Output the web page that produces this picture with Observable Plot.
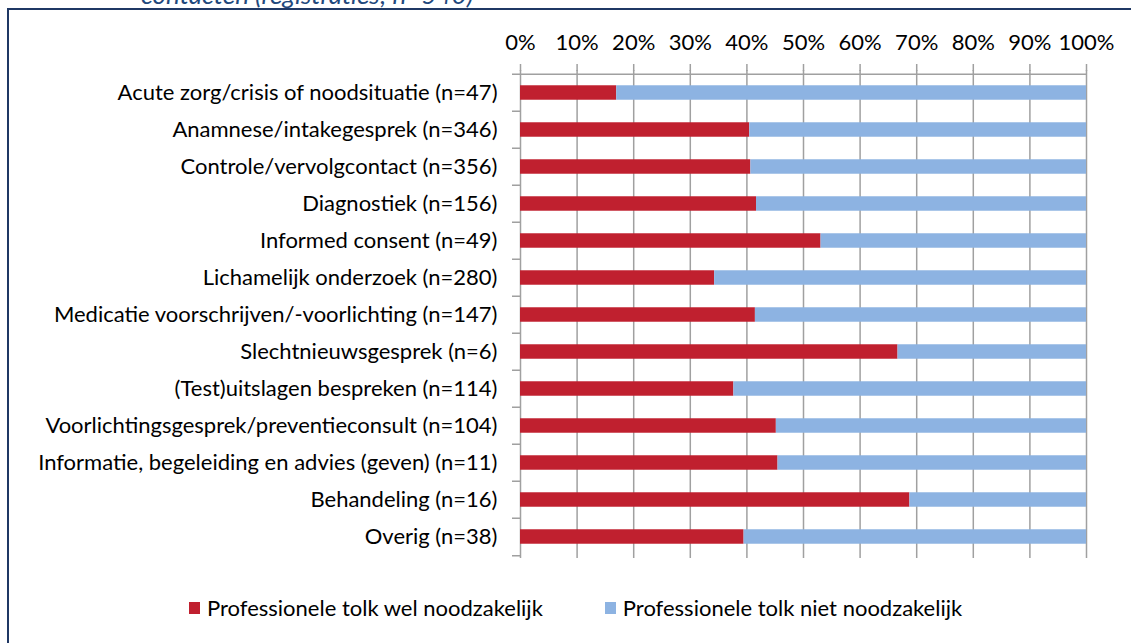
<!DOCTYPE html>
<html><head><meta charset="utf-8">
<script src="https://cdn.jsdelivr.net/npm/d3@7"></script>
<script src="https://cdn.jsdelivr.net/npm/@observablehq/plot@0.6"></script>
<style>
html,body{margin:0;padding:0;background:#fff;overflow:hidden;width:1131px;height:643px;}
#wrap{position:relative;width:1131px;height:643px;font-family:Lato, sans-serif;overflow:hidden;}
#border{position:absolute;left:7px;top:8px;width:2000px;height:2000px;border:2px solid #1F3864;box-sizing:border-box;}
#title{position:absolute;left:141px;top:-19px;font-style:italic;color:#1F497D;font-size:26px;line-height:26px;white-space:nowrap;}
#chart{position:absolute;left:0;top:0;}
#legend{position:absolute;left:189px;top:596px;display:flex;align-items:center;font-size:22px;line-height:24px;color:#000;}
.item{display:flex;align-items:center;margin-right:62px;}
.sw{width:11px;height:12px;margin-right:7px;}
</style></head><body>
<div id="wrap">
  <div id="border"></div>
  <div id="title"></div>
  <div id="chart"></div>
  <div id="legend"></div>
</div>
<script>
const titleText = "contacten (registraties; n=540)";
const categories = [
  "Acute zorg/crisis of noodsituatie (n=47)",
  "Anamnese/intakegesprek (n=346)",
  "Controle/vervolgcontact (n=356)",
  "Diagnostiek (n=156)",
  "Informed consent (n=49)",
  "Lichamelijk onderzoek (n=280)",
  "Medicatie voorschrijven/-voorlichting (n=147)",
  "Slechtnieuwsgesprek (n=6)",
  "(Test)uitslagen bespreken (n=114)",
  "Voorlichtingsgesprek/preventieconsult (n=104)",
  "Informatie, begeleiding en advies (geven) (n=11)",
  "Behandeling (n=16)",
  "Overig (n=38)"
];
const wel  = [17.0, 40.5, 40.7, 41.7, 53.1, 34.3, 41.5, 66.7, 37.7, 45.2, 45.5, 68.8, 39.5];
const niet = [83.0, 59.5, 59.3, 58.3, 46.9, 65.7, 58.5, 33.3, 62.3, 54.8, 54.5, 31.2, 60.5];
const series = ["Professionele tolk wel noodzakelijk", "Professionele tolk niet noodzakelijk"];
const colors = ["#C0202F", "#8DB3E2"];
const xTicks = [0, 10, 20, 30, 40, 50, 60, 70, 80, 90, 100];

const rows = categories.flatMap((c, i) => [
  {cat: c, series: series[0], value: wel[i]},
  {cat: c, series: series[1], value: niet[i]}
]);

const W = 1131, H = 580, mT = 70, mB = 22, mL = 520, mR = 45;
const bw = (H - mT - mB) / categories.length;
const barH = 15;
const inset = (bw - barH) / 2;
const gridColor = "#A0A0A0";

const chart = Plot.plot({
  width: W, height: H,
  marginTop: mT, marginBottom: mB, marginLeft: mL, marginRight: mR,
  style: {fontFamily: "Lato, sans-serif", fontSize: "22px", color: "#000", background: "transparent", overflow: "visible"},
  x: {domain: [0, 100], label: null},
  y: {domain: categories, padding: 0, label: null},
  color: {domain: series, range: colors},
  marks: [
    Plot.ruleX(xTicks, {stroke: gridColor, strokeWidth: 1.5}),
    Plot.barX(rows, Plot.stackX({y: "cat", x: "value", fill: "series", insetTop: inset, insetBottom: inset})),
    Plot.ruleY(categories, {y: d => d, x1: 0, x2: 0, insetLeft: -8, dy: -bw / 2, stroke: gridColor, strokeWidth: 1.5}),
    Plot.ruleY(categories.slice(-1), {y: d => d, x1: 0, x2: 0, insetLeft: -8, dy: bw / 2, stroke: gridColor, strokeWidth: 1.5}),
    Plot.ruleY(categories.slice(0, 1), {y: d => d, x1: 0, x2: 100, dy: -bw / 2, stroke: gridColor, strokeWidth: 1.5}),
    Plot.axisX(xTicks, {anchor: "top", label: null, tickSize: 7, tickPadding: 14, tickFormat: d => d + "%", stroke: gridColor, strokeWidth: 1.5, fontSize: 22, fill: "#000"}),
    Plot.axisY({anchor: "left", label: null, tickSize: 0, tickPadding: 23, fontSize: 22, fill: "#000"})
  ]
});
document.getElementById("chart").appendChild(chart);
document.getElementById("title").textContent = titleText;

const legend = document.getElementById("legend");
series.forEach((s, i) => {
  const item = document.createElement("div");
  item.className = "item";
  const sw = document.createElement("span");
  sw.className = "sw";
  sw.style.background = colors[i];
  const t = document.createElement("span");
  t.textContent = s;
  item.appendChild(sw);
  item.appendChild(t);
  legend.appendChild(item);
});
</script>
</body></html>
